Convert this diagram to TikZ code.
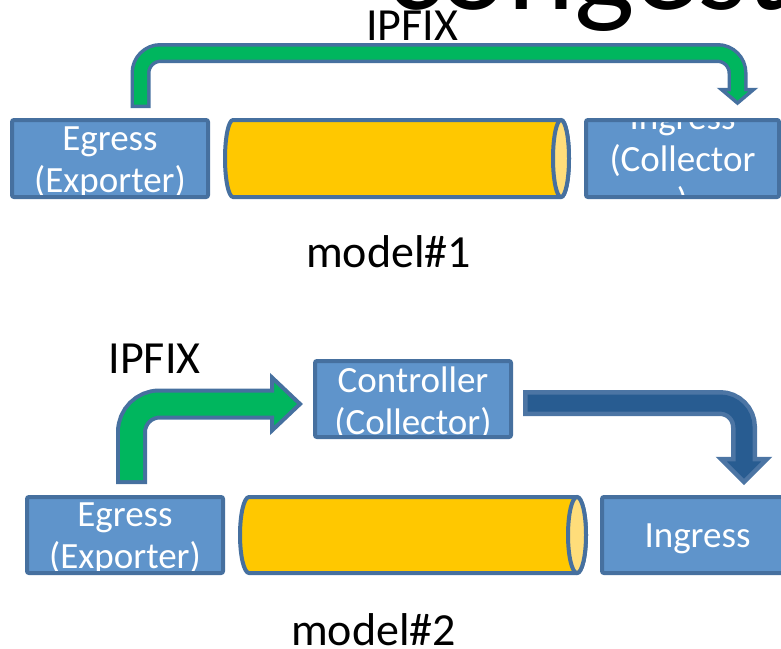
\documentclass[tikz,border=0pt]{standalone}
\usepackage{fontspec}
\setmainfont{Carlito}
\usetikzlibrary{calc, positioning}
\definecolor{boxblue}{HTML}{5F94CB}
\definecolor{boxline}{HTML}{46709F}
\definecolor{flowgreen}{HTML}{00B65E}
\definecolor{pipegold}{HTML}{FFC800}
\definecolor{pipelight}{HTML}{FFDD7A}
\definecolor{ctrlblue}{HTML}{285C91}
\definecolor{ctrlline}{HTML}{4C75A4}

\begin{document}
\begin{tikzpicture}[x=1pt, y=-1pt,
    box/.style={rectangle, rounded corners=2pt, draw=boxline, fill=boxblue,
                line width=4pt, minimum width=196pt, minimum height=77pt, inner sep=0pt},
    boxtext/.style={path picture={\node[draw=none, fill=none, text=white, align=center, yshift=-4pt,
                font=\fontsize{37}{42}\selectfont] at (path picture bounding box.center) {#1};}},
    pipe/.style={draw=boxline, fill=pipegold, line width=4pt},
    pipeend/.style={draw=boxline, fill=pipelight, line width=4pt},
    big/.style={font=\fontsize{46}{50}\selectfont, anchor=base}
  ]
    \useasboundingbox (0,0) rectangle (781,648);

    \node[font=\fontsize{128}{130}\selectfont, anchor=base west] (title) at (383,9) {congest};

    % model#1
    \node[box, boxtext={Egress\\(Exporter)}] (egA) at (110,158.5) {};
    \node[box, minimum width=193pt, boxtext={Ingress\\(Collector\\)}] (inA) at (682.5,158.5) {};
    \draw[pipe] (233,120) -- (561,120) arc[start angle=-90, end angle=90, x radius=8, y radius=38.5]
        -- (233,197) arc[start angle=90, end angle=270, x radius=8, y radius=38.5] -- cycle;
    \draw[pipeend] (561,158.5) ellipse[x radius=8, y radius=38.5];

    \coordinate (g1s) at (140.5,108);
    \coordinate (g1c) at (140.5,53);
    \coordinate (g1b) at (737.5,89.5);
    \coordinate (g1t) at (737.5,103);
    \draw[line width=20pt, boxline, rounded corners=20pt] (g1s) -- (g1c) -| (g1b);
    \filldraw[fill=flowgreen, draw=boxline, line width=3.5pt]
        ($(g1b)+(-16,0)$) -- ($(g1b)+(16,0)$) -- (g1t) -- cycle;
    \draw[line width=13pt, flowgreen, rounded corners=20pt, shorten <=3.5pt, shorten >=-3.5pt]
        (g1s) -- (g1c) -| (g1b);

    \node[big] (ipfixA) at (412,40) {IPFIX};
    \node[big] (capA) at (388.5,267) {model\#1};

    % model#2
    \node[box, minimum height=76pt, boxtext={Controller\\(Collector)}] (ctB) at (413,399) {};
    \node[box, minimum height=76pt, boxtext={Egress\\(Exporter)}] (egB) at (125,535) {};
    \node[box, minimum height=76pt, minimum width=191pt, boxtext={Ingress}] (inB) at (697.5,535) {};
    \draw[pipe] (249,497) -- (577,497) arc[start angle=-90, end angle=90, x radius=9, y radius=38]
        -- (249,573) arc[start angle=90, end angle=270, x radius=9, y radius=38] -- cycle;
    \draw[pipeend] (577,535) ellipse[x radius=9, y radius=38];

    \coordinate (g2s) at (131.5,484);
    \coordinate (g2c) at (131.5,404);
    \coordinate (g2b) at (272,404);
    \coordinate (g2t) at (300,404);
    \draw[line width=31pt, boxline, rounded corners=28pt] (g2s) -- (g2c) -- (g2b);
    \filldraw[fill=flowgreen, draw=boxline, line width=4pt]
        ($(g2b)+(0,-26.5)$) -- ($(g2b)+(0,26.5)$) -- (g2t) -- cycle;
    \draw[line width=23pt, flowgreen, rounded corners=28pt, shorten <=4pt, shorten >=-4pt]
        (g2s) -- (g2c) -- (g2b);

    \coordinate (b2s) at (523,403);
    \coordinate (b2c) at (744,403);
    \coordinate (b2b) at (744,459);
    \coordinate (b2t) at (744,482);
    \draw[line width=26pt, ctrlline, rounded corners=24pt] (b2s) -- (b2c) -- (b2b);
    \filldraw[fill=ctrlblue, draw=ctrlline, line width=4.5pt]
        ($(b2b)+(-23,0)$) -- ($(b2b)+(23,0)$) -- (b2t) -- cycle;
    \draw[line width=17pt, ctrlblue, rounded corners=24pt, shorten <=4.5pt, shorten >=-4.5pt]
        (b2s) -- (b2c) -- (b2b);

    \node[big] (ipfixB) at (154.5,373) {IPFIX};
    \node[big] (capB) at (373.5,645) {model\#2};
  \end{tikzpicture}
\end{document}
